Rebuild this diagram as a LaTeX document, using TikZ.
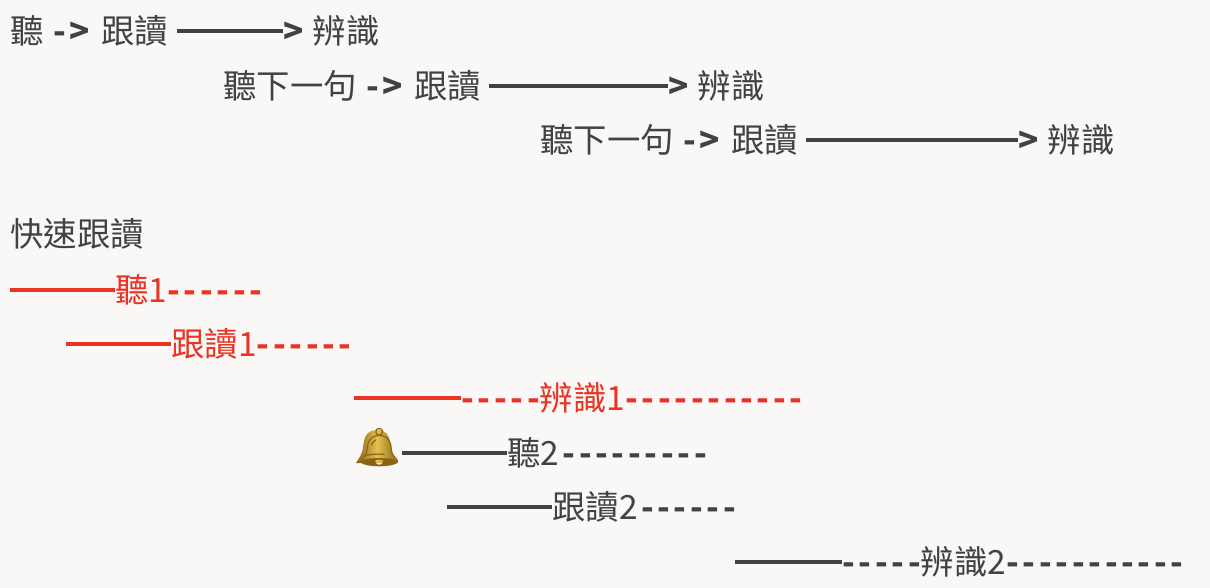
\documentclass[tikz,border=0pt]{standalone}
\usepackage{fontspec}
\setmainfont{Noto Sans CJK TC}
\newfontfamily\dashfont[LetterSpace=11]{Noto Sans CJK TC}
\newfontfamily\emojifont{Noto Emoji}
\usepackage{tikz}

\definecolor{paper}{HTML}{F9F8F6}
\definecolor{ink}{HTML}{424242}
\definecolor{alert}{HTML}{EA3323}
\definecolor{bellgold}{HTML}{8A6414}
\definecolor{belllight}{HTML}{E3C050}
\newcommand{\dashrun}[1]{{\dashfont\bfseries #1}}
\newcommand{\gives}{\hspace{0.06em}\dashrun{->}\hspace{0.33em}}
\tikzset{lbl/.style={right, inner sep=0, font=\fontsize{19}{22}\selectfont, text=ink},
  redlbl/.style={lbl, text=alert},
  rule/.style={line width=0.068cm, ink},
  redrule/.style={line width=0.068cm, alert}}

\begin{document}
\begin{tikzpicture}

\fill [paper] (0,0) rectangle (24.2,-11.76);
\useasboundingbox (0,0) rectangle (24.2,-11.76);

%%%%% Top rows
\node [lbl] (ta) at (0.2,-0.62) {聽 \gives 跟讀}; \node [lbl] (tb) at (5.66,-0.62) {{\bfseries >} \hspace{0.05em}辨識};
\draw [rule] ([xshift=0.18cm]ta.east)--(tb.west);

\node [lbl] (ua) at (4.46,-1.72) {聽下一句 \gives 跟讀}; \node [lbl] (ub) at (13.36,-1.72) {{\bfseries >} \hspace{0.05em}辨識};
\draw [rule] ([xshift=0.16cm]ua.east)--(ub.west);

\node [lbl] (va) at (10.8,-2.80) {聽下一句 \gives 跟讀}; \node [lbl] (vb) at (20.36,-2.80) {{\bfseries >} \hspace{0.05em}辨識};
\draw [rule] ([xshift=0.16cm]va.east)--(vb.west);

\node [lbl] (title) at (0.2,-4.68) {快速跟讀};

%%%%% Red rows
\coordinate (ra) at (0.2,-5.8); \node [redlbl] (rb) at (2.3,-5.8) {聽1\dashrun{------}};
\draw [redrule] (ra)--(rb.west);

\coordinate (sa) at (1.32,-6.88); \node [redlbl] (sb) at (3.42,-6.88) {跟讀1\dashrun{------}};
\draw [redrule] (sa)--(sb.west);

\coordinate (pa) at (7.08,-7.96); \node [redlbl] (pb) at (9.22,-7.96) {\dashrun{-----}辨識1\dashrun{-----------}};
\draw [redrule] (pa)--(pb.west);

%%%%% Grey rows
\shade [left color=bellgold, right color=bellgold, middle color=belllight] (7.54,-8.6) .. controls (7.3,-8.6) and (7.28,-8.8) .. (7.26,-8.95) .. controls (7.24,-9.1) and (7.18,-9.16) .. (7.12,-9.26) -- (7.96,-9.26) .. controls (7.9,-9.16) and (7.84,-9.1) .. (7.82,-8.95) .. controls (7.8,-8.8) and (7.78,-8.6) .. (7.54,-8.6) -- cycle;
\node [right, inner sep=0, font=\fontsize{21.5}{24}\emojifont, text=bellgold] (bell) at (7.1,-8.96) {🔔};
\node [lbl] (qb) at (10.14,-9.06) {聽2\hspace{0.1em}\dashrun{---------}};
\draw [rule] ([xshift=-0.04cm]bell.east|-qb.west)--(qb.west);

\coordinate (wa) at (8.94,-10.14); \node [lbl] (wb) at (11.04,-10.14) {跟讀2\hspace{0.1em}\dashrun{------}};
\draw [rule] (wa)--(wb.west);

\coordinate (xa) at (14.7,-11.24); \node [lbl] (xb) at (16.84,-11.24) {\dashrun{-----}辨識2\dashrun{-----------}};
\draw [rule] (xa)--(xb.west);

\end{tikzpicture}
\end{document}
